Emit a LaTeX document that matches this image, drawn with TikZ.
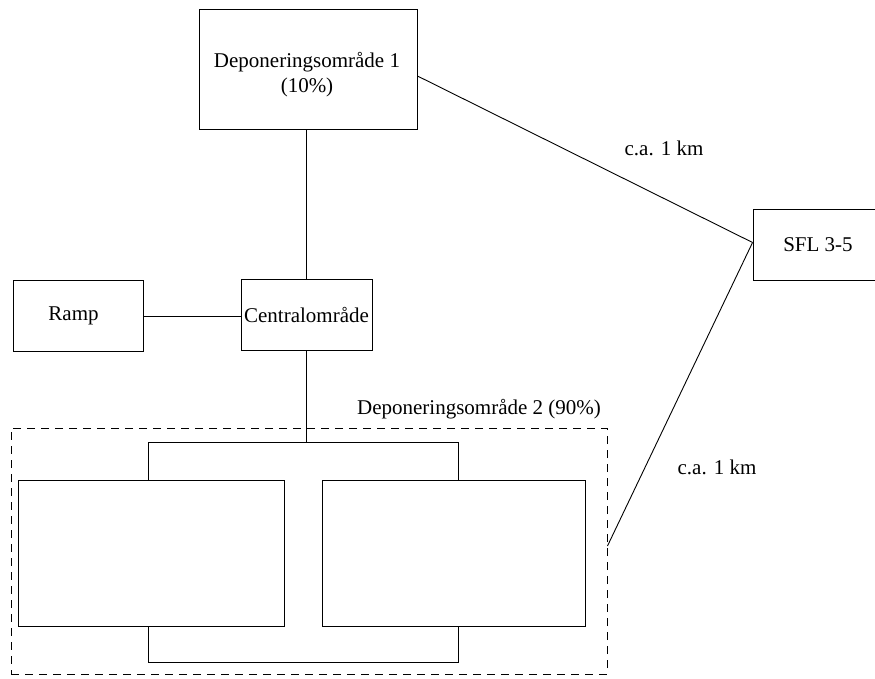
\documentclass[tikz,border=0pt]{standalone}
\usepackage{fontspec}
\setmainfont{Liberation Serif}
\begin{document}
\begin{tikzpicture}[x=1pt,y=-1pt,
  box/.style={draw, line width=0.9pt, inner sep=0pt, font=\fontsize{21}{25}\selectfont},
  conn/.style={line width=0.9pt},
  lbl/.style={inner sep=0pt, font=\fontsize{21}{25}\selectfont}]
\clip (0,0) rectangle (875,679);
\fill[white] (0,0) rectangle (875,679);
% boxes
\node[box, minimum width=218pt, minimum height=120pt] (dep1) at (308,69) {};
\node[lbl, align=center] (dep1txt) at (307,75) {Deponeringsområde 1\\(10\%)};
\node[box, minimum width=130pt, minimum height=71pt] (ramp) at (78,316) {\hspace*{-9pt}Ramp};
\node[box, minimum width=131pt, minimum height=71pt] (cent) at (306.5,315) {Centralområde};
\node[box, minimum width=130pt, minimum height=71pt] (sfl) at (818,244.5) {SFL 3-5};
\node[box, dashed, dash pattern=on 8pt off 6pt, minimum width=596pt, minimum height=246pt] (dep2) at (309,551) {};
\node[lbl] (dep2lbl) at (479,409) {Deponeringsområde 2 (90\%)};
\node[box, minimum width=266pt, minimum height=146pt] (left) at (151,553) {};
\node[box, minimum width=263pt, minimum height=146pt] (right) at (453.5,553) {};
% bracket coordinates
\coordinate (tl) at (148,442);
\coordinate (tr) at (458,442);
\coordinate (bl) at (148,662);
\coordinate (br) at (458,662);
% connectors
\draw[conn] (dep1.south -| cent.north) -- (cent.north);
\draw[conn] (ramp.east) -- (ramp.east -| cent.west);
\draw[conn] (cent.south) -- (cent.south |- tl);
\draw[conn] (left.north -| tl) -- (tl) -- (tr) -- (right.north -| tr);
\draw[conn] (left.south -| bl) -- (bl) -- (br) -- (right.south -| br);
\draw[conn] ([yshift=-7pt]dep1.east) -- ([yshift=2pt]sfl.west);
\draw[conn] ([yshift=5pt]dep2.east) -- ([yshift=2pt]sfl.west);
% labels
\node[lbl] (km1) at (664,148) {c.a. 1 km};
\node[lbl] (km2) at (717,467) {c.a. 1 km};
\end{tikzpicture}
\end{document}
